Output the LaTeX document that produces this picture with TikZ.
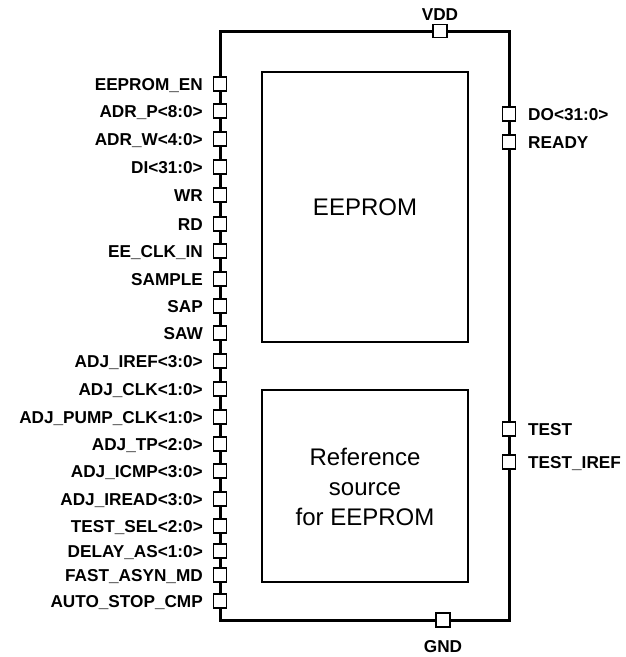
\documentclass[tikz,border=0pt]{standalone}
\usepackage{fontspec}
\setmainfont{Liberation Sans}
\begin{document}
\begin{tikzpicture}[x=1pt,y=-1pt,
  pinbox/.style={draw,fill=white,line width=1.2pt,minimum width=13pt,minimum height=14pt,inner sep=0pt},
  pinlabel/.style={font=\fontsize{17.2}{19}\selectfont\bfseries,inner sep=0pt},
  block/.style={draw,line width=1.5pt,inner sep=0pt},
  blocktext/.style={font=\fontsize{24}{30}\selectfont,align=center,inner sep=0pt}]
\useasboundingbox (0,0) rectangle (626,657);
% outer frame
\coordinate (tl) at (220,31);
\coordinate (br) at (509,620);
\draw[line width=3pt] (tl) rectangle (br);
% inner blocks
\node[block,minimum width=206pt,minimum height=270pt] (eeprom) at (365,207) {};
\node[blocktext] (eepromtxt) at (eeprom.center) {EEPROM};
\node[block,minimum width=206pt,minimum height=192pt] (refsrc) at (365,486) {};
\node[blocktext] (reftxt) at (365,487) {Reference\\source\\for EEPROM};
% left pins
\foreach \n/\t/\y in {1/EEPROM\_EN/84, 2/ADR\_P<8:0>/111, 3/ADR\_W<4:0>/139, 4/DI<31:0>/167,
  5/WR/195, 6/RD/224, 7/EE\_CLK\_IN/251, 8/SAMPLE/279, 9/SAP/306, 10/SAW/333,
  11/ADJ\_IREF<3:0>/361, 12/ADJ\_CLK<1:0>/389, 13/ADJ\_PUMP\_CLK<1:0>/417, 14/ADJ\_TP<2:0>/444,
  15/ADJ\_ICMP<3:0>/471, 16/ADJ\_IREAD<3:0>/499, 17/TEST\_SEL<2:0>/526, 18/DELAY\_AS<1:0>/551,
  19/FAST\_ASYN\_MD/575, 20/AUTO\_STOP\_CMP/601}{
  \node[pinbox] (pinL\n) at (220,\y) {};
  \node[pinlabel,anchor=base east] (labL\n) at (203,\y+6) {\t};
}
% right pins
\foreach \n/\t/\y in {1/DO<31:0>/114, 2/READY/142, 3/TEST/429, 4/TEST\_IREF/462}{
  \node[pinbox] (pinR\n) at (509,\y) {};
  \node[pinlabel,anchor=base west] (labR\n) at (528,\y+6) {\t};
}
% supply pins
\node[pinbox,minimum width=14pt,minimum height=13pt] (vdd) at (440,31) {};
\node[pinlabel,anchor=base] (vddlab) at (440,20) {VDD};
\node[pinbox,minimum width=14pt,minimum height=14pt] (gnd) at (443,620) {};
\node[pinlabel,anchor=base] (gndlab) at (443,652) {GND};
\end{tikzpicture}
\end{document}
